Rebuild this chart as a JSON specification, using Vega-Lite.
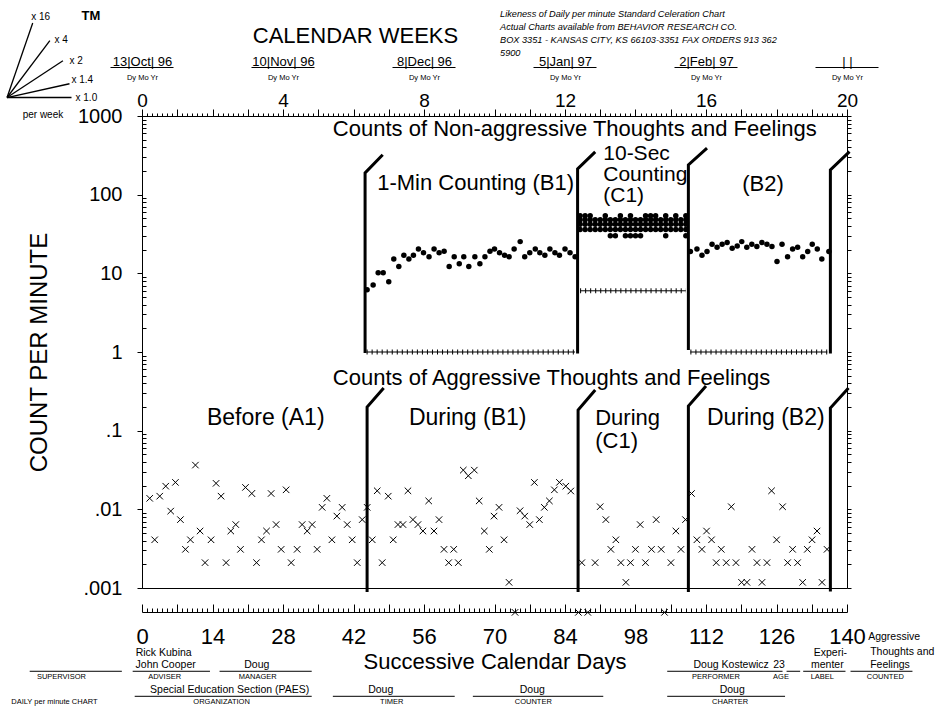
{
  "$schema": "https://vega.github.io/schema/vega-lite/v6.json",
  "width": 705,
  "height": 472,
  "autosize": "none",
  "padding": {"left": 142, "top": 116, "right": 91, "bottom": 119},
  "background": "white",
  "config": {
    "view": {"stroke": "black", "strokeWidth": 1},
    "font": "Liberation Sans",
    "axis": {"grid": false, "labelColor": "black", "tickColor": "black", "domainColor": "black", "titleColor": "black", "labelFont": "Liberation Sans", "titleFont": "Liberation Sans", "labelOverlap": false, "labelFlush": false, "labelBound": false, "titleFontWeight": "normal"},
    "text": {"color": "black", "font": "Liberation Sans"}
  },
  "datasets": {
    "upper": [
      {"day": 44.7, "cpm": 6.2}, {"day": 45.9, "cpm": 7.1}, {"day": 46.9, "cpm": 10.2}, {"day": 47.9, "cpm": 10.2}, {"day": 49.0, "cpm": 7.8},
      {"day": 50.0, "cpm": 15.2}, {"day": 51.0, "cpm": 12.2}, {"day": 52.0, "cpm": 17.0}, {"day": 53.0, "cpm": 15.2}, {"day": 53.9, "cpm": 17.0},
      {"day": 54.9, "cpm": 20.4}, {"day": 55.9, "cpm": 18.3}, {"day": 57.0, "cpm": 16.3}, {"day": 58.0, "cpm": 20.4}, {"day": 59.0, "cpm": 18.3},
      {"day": 60.0, "cpm": 19.1}, {"day": 61.0, "cpm": 12.2}, {"day": 62.0, "cpm": 16.3}, {"day": 63.0, "cpm": 13.2}, {"day": 63.9, "cpm": 16.3},
      {"day": 64.9, "cpm": 12.2}, {"day": 66.1, "cpm": 16.3}, {"day": 67.1, "cpm": 13.2}, {"day": 68.1, "cpm": 16.3}, {"day": 69.1, "cpm": 19.1},
      {"day": 70.0, "cpm": 20.4}, {"day": 71.0, "cpm": 18.3}, {"day": 72.0, "cpm": 17.0}, {"day": 72.9, "cpm": 16.3}, {"day": 73.9, "cpm": 20.4},
      {"day": 75.1, "cpm": 25.3}, {"day": 76.0, "cpm": 16.3}, {"day": 77.0, "cpm": 18.3}, {"day": 78.1, "cpm": 20.4}, {"day": 79.0, "cpm": 18.3},
      {"day": 80.0, "cpm": 17.0}, {"day": 81.0, "cpm": 20.4}, {"day": 82.0, "cpm": 18.3}, {"day": 82.9, "cpm": 17.0}, {"day": 84.0, "cpm": 20.4},
      {"day": 85.0, "cpm": 18.3}, {"day": 86.0, "cpm": 16.3},
      {"day": 108.9, "cpm": 18.9}, {"day": 110.2, "cpm": 20.4}, {"day": 111.2, "cpm": 17.0}, {"day": 112.2, "cpm": 18.9}, {"day": 113.2, "cpm": 23.4},
      {"day": 114.2, "cpm": 21.4}, {"day": 115.2, "cpm": 23.4}, {"day": 116.2, "cpm": 24.6}, {"day": 117.2, "cpm": 20.8}, {"day": 118.2, "cpm": 22.3},
      {"day": 119.1, "cpm": 25.3}, {"day": 120.1, "cpm": 21.4}, {"day": 121.1, "cpm": 23.4}, {"day": 122.1, "cpm": 21.9}, {"day": 123.1, "cpm": 24.6},
      {"day": 124.1, "cpm": 23.4}, {"day": 125.1, "cpm": 21.9}, {"day": 126.1, "cpm": 14.1}, {"day": 127.1, "cpm": 23.4}, {"day": 128.2, "cpm": 16.3},
      {"day": 129.2, "cpm": 20.4}, {"day": 130.2, "cpm": 21.4}, {"day": 131.2, "cpm": 16.3}, {"day": 132.2, "cpm": 18.9}, {"day": 133.1, "cpm": 23.4},
      {"day": 134.1, "cpm": 20.4}, {"day": 135.0, "cpm": 15.2}, {"day": 136.4, "cpm": 18.9}
    ],
    "upperC1": [
      {"day": 87, "cpm": 36}, {"day": 87, "cpm": 42}, {"day": 87, "cpm": 48}, {"day": 87, "cpm": 54},
      {"day": 88, "cpm": 36}, {"day": 88, "cpm": 42}, {"day": 88, "cpm": 48}, {"day": 88, "cpm": 54},
      {"day": 89, "cpm": 36}, {"day": 89, "cpm": 42}, {"day": 89, "cpm": 48}, {"day": 89, "cpm": 54},
      {"day": 90, "cpm": 36}, {"day": 90, "cpm": 42}, {"day": 90, "cpm": 48},
      {"day": 91, "cpm": 36}, {"day": 91, "cpm": 42}, {"day": 91, "cpm": 48},
      {"day": 92, "cpm": 36}, {"day": 92, "cpm": 42}, {"day": 92, "cpm": 48}, {"day": 92, "cpm": 54},
      {"day": 93, "cpm": 30}, {"day": 93, "cpm": 36}, {"day": 93, "cpm": 42}, {"day": 93, "cpm": 48},
      {"day": 94, "cpm": 30}, {"day": 94, "cpm": 36}, {"day": 94, "cpm": 42}, {"day": 94, "cpm": 48},
      {"day": 95, "cpm": 36}, {"day": 95, "cpm": 42}, {"day": 95, "cpm": 48}, {"day": 95, "cpm": 54},
      {"day": 96, "cpm": 30}, {"day": 96, "cpm": 36}, {"day": 96, "cpm": 42}, {"day": 96, "cpm": 48},
      {"day": 97, "cpm": 30}, {"day": 97, "cpm": 36}, {"day": 97, "cpm": 42}, {"day": 97, "cpm": 48}, {"day": 97, "cpm": 54},
      {"day": 98, "cpm": 30}, {"day": 98, "cpm": 36}, {"day": 98, "cpm": 42}, {"day": 98, "cpm": 48},
      {"day": 99, "cpm": 30}, {"day": 99, "cpm": 36}, {"day": 99, "cpm": 42}, {"day": 99, "cpm": 48},
      {"day": 100, "cpm": 36}, {"day": 100, "cpm": 42}, {"day": 100, "cpm": 48}, {"day": 100, "cpm": 54},
      {"day": 101, "cpm": 36}, {"day": 101, "cpm": 42}, {"day": 101, "cpm": 48}, {"day": 101, "cpm": 54},
      {"day": 102, "cpm": 36}, {"day": 102, "cpm": 42}, {"day": 102, "cpm": 48}, {"day": 102, "cpm": 54},
      {"day": 103, "cpm": 36}, {"day": 103, "cpm": 42}, {"day": 103, "cpm": 48},
      {"day": 104, "cpm": 30}, {"day": 104, "cpm": 36}, {"day": 104, "cpm": 42}, {"day": 104, "cpm": 48}, {"day": 104, "cpm": 54},
      {"day": 105, "cpm": 36}, {"day": 105, "cpm": 42}, {"day": 105, "cpm": 48},
      {"day": 106, "cpm": 36}, {"day": 106, "cpm": 42}, {"day": 106, "cpm": 48}, {"day": 106, "cpm": 54},
      {"day": 107, "cpm": 36}, {"day": 107, "cpm": 42}, {"day": 107, "cpm": 48},
      {"day": 108, "cpm": 30}, {"day": 108, "cpm": 36}, {"day": 108, "cpm": 42}, {"day": 108, "cpm": 48}, {"day": 108, "cpm": 54}
    ],
    "lower": [
      {"day": 1.53, "cpm": 0.0138}, {"day": 2.52, "cpm": 0.0041}, {"day": 3.52, "cpm": 0.0147}, {"day": 4.71, "cpm": 0.0197}, {"day": 5.70, "cpm": 0.0095},
      {"day": 6.64, "cpm": 0.022}, {"day": 7.63, "cpm": 0.0074}, {"day": 8.63, "cpm": 0.0031}, {"day": 9.62, "cpm": 0.0041}, {"day": 10.61, "cpm": 0.0365},
      {"day": 11.53, "cpm": 0.0053}, {"day": 12.52, "cpm": 0.0021}, {"day": 13.71, "cpm": 0.0041}, {"day": 14.71, "cpm": 0.0214}, {"day": 15.70, "cpm": 0.0147},
      {"day": 16.70, "cpm": 0.0021}, {"day": 17.63, "cpm": 0.0053}, {"day": 18.62, "cpm": 0.0064}, {"day": 19.56, "cpm": 0.0031}, {"day": 20.55, "cpm": 0.019},
      {"day": 21.80, "cpm": 0.0159}, {"day": 22.74, "cpm": 0.0021}, {"day": 23.73, "cpm": 0.0041}, {"day": 24.73, "cpm": 0.0053}, {"day": 25.64, "cpm": 0.0159},
      {"day": 26.63, "cpm": 0.0064}, {"day": 27.63, "cpm": 0.0031}, {"day": 28.62, "cpm": 0.0177}, {"day": 29.62, "cpm": 0.0021}, {"day": 30.81, "cpm": 0.0031},
      {"day": 31.80, "cpm": 0.0064}, {"day": 32.80, "cpm": 0.0053}, {"day": 33.79, "cpm": 0.0064}, {"day": 34.78, "cpm": 0.0031}, {"day": 35.78, "cpm": 0.0106},
      {"day": 36.71, "cpm": 0.0138}, {"day": 37.71, "cpm": 0.0041}, {"day": 38.70, "cpm": 0.0082}, {"day": 39.75, "cpm": 0.0106}, {"day": 40.75, "cpm": 0.0064},
      {"day": 41.74, "cpm": 0.0041}, {"day": 42.74, "cpm": 0.0021}, {"day": 43.73, "cpm": 0.0074},
      {"day": 44.72, "cpm": 0.0106}, {"day": 45.72, "cpm": 0.0041}, {"day": 46.71, "cpm": 0.0172}, {"day": 47.70, "cpm": 0.0021}, {"day": 48.90, "cpm": 0.0147},
      {"day": 49.89, "cpm": 0.0041}, {"day": 50.83, "cpm": 0.0064}, {"day": 51.82, "cpm": 0.0064}, {"day": 52.81, "cpm": 0.0172}, {"day": 53.80, "cpm": 0.0074},
      {"day": 54.80, "cpm": 0.0064}, {"day": 55.79, "cpm": 0.0053}, {"day": 56.93, "cpm": 0.0128}, {"day": 57.98, "cpm": 0.0053}, {"day": 58.98, "cpm": 0.0074},
      {"day": 59.97, "cpm": 0.0031}, {"day": 60.90, "cpm": 0.0021}, {"day": 61.90, "cpm": 0.0031}, {"day": 62.81, "cpm": 0.0021}, {"day": 63.80, "cpm": 0.0315},
      {"day": 64.80, "cpm": 0.0267}, {"day": 65.99, "cpm": 0.0315}, {"day": 66.96, "cpm": 0.0128}, {"day": 67.98, "cpm": 0.0053}, {"day": 68.97, "cpm": 0.0031},
      {"day": 69.91, "cpm": 0.0082}, {"day": 70.90, "cpm": 0.0106}, {"day": 71.90, "cpm": 0.0041}, {"day": 72.89, "cpm": 0.00118}, {"day": 75.08, "cpm": 0.0096},
      {"day": 76.01, "cpm": 0.0082}, {"day": 77.00, "cpm": 0.0064}, {"day": 77.92, "cpm": 0.022}, {"day": 78.91, "cpm": 0.0074}, {"day": 79.90, "cpm": 0.0106},
      {"day": 80.90, "cpm": 0.0128}, {"day": 81.89, "cpm": 0.0177}, {"day": 82.89, "cpm": 0.022}, {"day": 84.16, "cpm": 0.0197}, {"day": 85.15, "cpm": 0.0171},
      {"day": 87.34, "cpm": 0.0021}, {"day": 89.98, "cpm": 0.0021}, {"day": 90.98, "cpm": 0.0108}, {"day": 92.11, "cpm": 0.0074}, {"day": 93.10, "cpm": 0.0031},
      {"day": 94.10, "cpm": 0.0041}, {"day": 95.09, "cpm": 0.0021}, {"day": 96.09, "cpm": 0.00118}, {"day": 97.00, "cpm": 0.0021}, {"day": 97.99, "cpm": 0.0031},
      {"day": 98.93, "cpm": 0.0064}, {"day": 99.98, "cpm": 0.0021}, {"day": 101.17, "cpm": 0.0031}, {"day": 102.11, "cpm": 0.0074}, {"day": 103.10, "cpm": 0.0031},
      {"day": 105.03, "cpm": 0.0021}, {"day": 106.02, "cpm": 0.0053}, {"day": 107.02, "cpm": 0.0031}, {"day": 107.93, "cpm": 0.0074},
      {"day": 109.12, "cpm": 0.0159}, {"day": 110.19, "cpm": 0.0041}, {"day": 111.19, "cpm": 0.0031}, {"day": 112.11, "cpm": 0.0053}, {"day": 113.10, "cpm": 0.0041},
      {"day": 114.03, "cpm": 0.0021}, {"day": 115.03, "cpm": 0.0031}, {"day": 116.02, "cpm": 0.0021}, {"day": 117.02, "cpm": 0.0108}, {"day": 117.95, "cpm": 0.0021},
      {"day": 119.06, "cpm": 0.00118}, {"day": 120.13, "cpm": 0.00118}, {"day": 121.13, "cpm": 0.0031}, {"day": 122.12, "cpm": 0.0021}, {"day": 123.12, "cpm": 0.00118},
      {"day": 124.11, "cpm": 0.0021}, {"day": 125.02, "cpm": 0.0172}, {"day": 126.02, "cpm": 0.0041}, {"day": 127.21, "cpm": 0.0108}, {"day": 128.21, "cpm": 0.0021},
      {"day": 129.20, "cpm": 0.0031}, {"day": 130.19, "cpm": 0.0021}, {"day": 131.19, "cpm": 0.00118}, {"day": 132.12, "cpm": 0.0031}, {"day": 133.06, "cpm": 0.0041},
      {"day": 134.05, "cpm": 0.0053}, {"day": 135.04, "cpm": 0.00118}, {"day": 136.04, "cpm": 0.0031}
    ],
    "zeros": [{"day": 74.08}, {"day": 86.66}, {"day": 88.53}, {"day": 103.76}],
    "phaselines": [
      {"line": "u1", "ord": 1, "day": 44.3, "cpm": 0.97}, {"line": "u1", "ord": 2, "day": 44.3, "cpm": 189}, {"line": "u1", "ord": 3, "day": 47.8, "cpm": 321},
      {"line": "u2", "ord": 1, "day": 86.5, "cpm": 0.96}, {"line": "u2", "ord": 2, "day": 86.5, "cpm": 213}, {"line": "u2", "ord": 3, "day": 90.0, "cpm": 350},
      {"line": "u3", "ord": 1, "day": 108.5, "cpm": 1.06}, {"line": "u3", "ord": 2, "day": 108.5, "cpm": 239}, {"line": "u3", "ord": 3, "day": 112.2, "cpm": 391},
      {"line": "u4", "ord": 1, "day": 136.7, "cpm": 0.96}, {"line": "u4", "ord": 2, "day": 136.7, "cpm": 207}, {"line": "u4", "ord": 3, "day": 140.5, "cpm": 353},
      {"line": "l1", "ord": 1, "day": 44.7, "cpm": 0.00089}, {"line": "l1", "ord": 2, "day": 44.7, "cpm": 0.2}, {"line": "l1", "ord": 3, "day": 48.0, "cpm": 0.348},
      {"line": "l2", "ord": 1, "day": 86.6, "cpm": 0.00089}, {"line": "l2", "ord": 2, "day": 86.6, "cpm": 0.183}, {"line": "l2", "ord": 3, "day": 90.0, "cpm": 0.329},
      {"line": "l3", "ord": 1, "day": 108.5, "cpm": 0.00089}, {"line": "l3", "ord": 2, "day": 108.5, "cpm": 0.206}, {"line": "l3", "ord": 3, "day": 112.0, "cpm": 0.37},
      {"line": "l4", "ord": 1, "day": 136.7, "cpm": 0.0009}, {"line": "l4", "ord": 2, "day": 136.7, "cpm": 0.194}, {"line": "l4", "ord": 3, "day": 140.3, "cpm": 0.348}
    ],
    "floors": [
      {"d1": 44.6, "d2": 86.0, "floor": 1},
      {"d1": 87.0, "d2": 108.0, "floor": 6},
      {"d1": 108.9, "d2": 136.1, "floor": 1}
    ],
    "weeks": [{"day": 0}, {"day": 28}, {"day": 56}, {"day": 84}, {"day": 112}, {"day": 140}],
    "fan": [
      {"k": "x16", "ord": 1, "day": -26.8, "v": 1718}, {"k": "x16", "ord": 2, "day": -21.7, "v": 15200},
      {"k": "x4", "ord": 1, "day": -26.8, "v": 1718}, {"k": "x4", "ord": 2, "day": -18.3, "v": 9060},
      {"k": "x2", "ord": 1, "day": -26.8, "v": 1718}, {"k": "x2", "ord": 2, "day": -15.7, "v": 5040},
      {"k": "x1.4", "ord": 1, "day": -26.8, "v": 1718}, {"k": "x1.4", "ord": 2, "day": -14.4, "v": 2570},
      {"k": "x1.0", "ord": 1, "day": -26.8, "v": 1718}, {"k": "x1.0", "ord": 2, "day": -14.0, "v": 1718}
    ],
    "fanLabels": [
      {"t": "x 16", "day": -22.0, "v": 18280}, {"t": "x 4", "day": -17.4, "v": 9310}, {"t": "x 2", "day": -14.4, "v": 5040},
      {"t": "x 1.4", "day": -14.0, "v": 2890}, {"t": "x 1.0", "day": -13.2, "v": 1706}, {"t": "per week", "day": -23.7, "v": 1036}
    ],
    "annUpper": [
      {"t": "Counts of Non-aggressive Thoughts and Feelings", "day": 37.9, "v": 687},
      {"t": "1-Min Counting (B1)", "day": 46.7, "v": 141},
      {"t": "(B2)", "day": 119.2, "v": 137},
      {"t": "Counts of Aggressive Thoughts and Feelings", "day": 37.9, "v": 0.467}
    ],
    "annLower": [
      {"t": "Before  (A1)", "day": 12.9, "v": 0.145},
      {"t": "During (B1)", "day": 53.0, "v": 0.145},
      {"t": "During (B2)", "day": 112.2, "v": 0.145}
    ],
    "footNames": [
      {"t": "Rick Kubina", "day": 4.3, "v": 0.000148},
      {"t": "John Cooper", "day": 4.7, "v": 0.000104},
      {"t": "Doug", "day": 22.8, "v": 0.000104},
      {"t": "Doug Kostewicz", "day": 117.0, "v": 0.000104},
      {"t": "23", "day": 126.5, "v": 0.000104},
      {"t": "Experi-", "day": 136.7, "v": 0.000148},
      {"t": "menter", "day": 136.1, "v": 0.000104},
      {"t": "Special Education Section (PAES)", "day": 17.4, "v": 0.0000501},
      {"t": "Doug", "day": 47.4, "v": 0.0000501},
      {"t": "Doug", "day": 77.5, "v": 0.0000501},
      {"t": "Doug", "day": 117.2, "v": 0.0000501}
    ],
    "footLeft": [
      {"t": "Aggressive", "day": 144.2, "v": 0.000237},
      {"t": "Thoughts and", "day": 144.6, "v": 0.000152},
      {"t": "Feelings", "day": 144.6, "v": 0.000104}
    ],
    "footSmall": [
      {"t": "SUPERVISOR", "day": -16.0, "v": 0.0000733},
      {"t": "ADVISER", "day": 4.5, "v": 0.0000733},
      {"t": "MANAGER", "day": 23.0, "v": 0.0000733},
      {"t": "PERFORMER", "day": 114.0, "v": 0.0000733},
      {"t": "AGE", "day": 126.9, "v": 0.0000733},
      {"t": "LABEL", "day": 135.1, "v": 0.0000733},
      {"t": "COUNTED", "day": 147.6, "v": 0.0000733},
      {"t": "ORGANIZATION", "day": 15.8, "v": 0.0000352},
      {"t": "TIMER", "day": 49.6, "v": 0.0000352},
      {"t": "COUNTER", "day": 77.7, "v": 0.0000352},
      {"t": "CHARTER", "day": 116.8, "v": 0.0000352},
      {"t": "DAILY per minute CHART", "day": -17.4, "v": 0.0000352}
    ],
    "footLines": [
      {"d1": -22.3, "d2": -4.0, "v": 0.0000874}, {"d1": -1.85, "d2": 13.5, "v": 0.0000874}, {"d1": 15.4, "d2": 33.7, "v": 0.0000874},
      {"d1": 104.3, "d2": 127.2, "v": 0.0000874}, {"d1": 128.0, "d2": 130.7, "v": 0.0000874}, {"d1": 131.3, "d2": 139.7, "v": 0.0000874},
      {"d1": 140.7, "d2": 153.0, "v": 0.0000874},
      {"d1": -1.45, "d2": 33.7, "v": 0.000042}, {"d1": 37.9, "d2": 62.1, "v": 0.000042}, {"d1": 65.7, "d2": 91.6, "v": 0.000042},
      {"d1": 104.3, "d2": 127.7, "v": 0.000042}
    ]
  },
  "layer": [
    {
      "data": {"name": "upper"},
      "mark": {"type": "circle", "color": "black", "size": 30, "opacity": 1},
      "encoding": {
        "x": {"field": "day", "type": "quantitative", "scale": {"domain": [0, 140], "nice": false, "zero": false},
          "axis": {"orient": "bottom", "offset": 24,
            "values": [0,1,2,3,4,5,6,7,8,9,10,11,12,13,14,15,16,17,18,19,20,21,22,23,24,25,26,27,28,29,30,31,32,33,34,35,36,37,38,39,40,41,42,43,44,45,46,47,48,49,50,51,52,53,54,55,56,57,58,59,60,61,62,63,64,65,66,67,68,69,70,71,72,73,74,75,76,77,78,79,80,81,82,83,84,85,86,87,88,89,90,91,92,93,94,95,96,97,98,99,100,101,102,103,104,105,106,107,108,109,110,111,112,113,114,115,116,117,118,119,120,121,122,123,124,125,126,127,128,129,130,131,132,133,134,135,136,137,138,139,140],
            "tickSize": {"condition": {"test": "datum.value % 7 === 0", "value": -8}, "value": -4},
            "labelExpr": "datum.value % 14 === 0 ? datum.label : ''",
            "labelFontSize": 22, "labelPadding": 22,
            "title": "Successive Calendar Days", "titleFontSize": 22, "titlePadding": 0}},
        "y": {"field": "cpm", "type": "quantitative", "scale": {"type": "log", "domain": [0.001, 1000], "nice": false},
          "axis": {"orient": "left",
            "values": [0.001,0.002,0.003,0.004,0.005,0.006,0.007,0.008,0.009,0.01,0.02,0.03,0.04,0.05,0.06,0.07,0.08,0.09,0.1,0.2,0.3,0.4,0.5,0.6,0.7,0.8,0.9,1,2,3,4,5,6,7,8,9,10,20,30,40,50,60,70,80,90,100,200,300,400,500,600,700,800,900,1000],
            "tickSize": {"condition": {"test": "abs(log(datum.value)/LN10 - round(log(datum.value)/LN10)) < 0.01", "value": 5}, "value": -4},
            "labelExpr": "abs(log(datum.value)/LN10 - round(log(datum.value)/LN10)) < 0.01 ? (datum.value >= 1 ? format(datum.value, 'd') : replace(format(datum.value, '.3~f'), '0.', '.')) : ''",
            "labelFontSize": 20, "labelPadding": 15,
            "title": "COUNT PER MINUTE", "titleFontSize": 24, "titlePadding": 26}}
      }
    },
    {
      "data": {"name": "upperC1"},
      "mark": {"type": "circle", "color": "black", "size": 30, "opacity": 1},
      "encoding": {
        "x": {"field": "day", "type": "quantitative",
          "axis": {"orient": "top",
            "values": [0,1,2,3,4,5,6,7,8,9,10,11,12,13,14,15,16,17,18,19,20,21,22,23,24,25,26,27,28,29,30,31,32,33,34,35,36,37,38,39,40,41,42,43,44,45,46,47,48,49,50,51,52,53,54,55,56,57,58,59,60,61,62,63,64,65,66,67,68,69,70,71,72,73,74,75,76,77,78,79,80,81,82,83,84,85,86,87,88,89,90,91,92,93,94,95,96,97,98,99,100,101,102,103,104,105,106,107,108,109,110,111,112,113,114,115,116,117,118,119,120,121,122,123,124,125,126,127,128,129,130,131,132,133,134,135,136,137,138,139,140],
            "tickSize": {"condition": {"test": "datum.value % 7 === 0", "value": 7}, "value": 3},
            "labelExpr": "datum.value % 28 === 0 ? format(datum.value / 7, 'd') : ''",
            "labelFontSize": 19, "labelPadding": -1, "title": null}},
        "y": {"field": "cpm", "type": "quantitative",
          "axis": {"orient": "right",
            "values": [0.001,0.002,0.003,0.004,0.005,0.006,0.007,0.008,0.009,0.01,0.02,0.03,0.04,0.05,0.06,0.07,0.08,0.09,0.1,0.2,0.3,0.4,0.5,0.6,0.7,0.8,0.9,1,2,3,4,5,6,7,8,9,10,20,30,40,50,60,70,80,90,100,200,300,400,500,600,700,800,900,1000],
            "tickSize": 4, "labels": false, "domain": false, "title": null}}
      }
    },
    {
      "data": {"name": "lower"},
      "mark": {"type": "point", "shape": "M-1,-1L1,1M1,-1L-1,1", "filled": false, "stroke": "black", "strokeWidth": 1, "size": 42, "opacity": 1},
      "encoding": {
        "x": {"field": "day", "type": "quantitative",
          "axis": {"orient": "top", "values": [0, 28, 56, 84, 112, 140],
            "labelExpr": "['13|Oct| 96', '10|Nov| 96', '8|Dec| 96', '5|Jan| 97', '2|Feb| 97', '    |     |    '][round(datum.value / 28)]",
            "ticks": false, "domain": false, "labelFontSize": 13, "labelPadding": 48, "title": null}},
        "y": {"field": "cpm", "type": "quantitative", "axis": null}
      }
    },
    {
      "data": {"name": "zeros"},
      "mark": {"type": "point", "shape": "M-1,-1L1,1M1,-1L-1,1", "filled": false, "stroke": "black", "strokeWidth": 1, "size": 42, "opacity": 1},
      "encoding": {
        "x": {"field": "day", "type": "quantitative", "axis": null},
        "y": {"datum": 0.00049, "type": "quantitative", "axis": null}
      }
    },
    {
      "data": {"name": "phaselines"},
      "mark": {"type": "line", "color": "black", "strokeWidth": 3, "strokeCap": "butt", "strokeJoin": "miter"},
      "encoding": {
        "x": {"field": "day", "type": "quantitative",
          "axis": {"orient": "top", "values": [0, 28, 56, 84, 112, 140], "labelExpr": "'Dy Mo Yr'",
            "ticks": false, "domain": false, "labelFontSize": 7.5, "labelPadding": 35, "title": null}},
        "y": {"field": "cpm", "type": "quantitative", "axis": null},
        "detail": {"field": "line"},
        "order": {"field": "ord"}
      }
    },
    {
      "data": {"name": "floors"},
      "mark": {"type": "rule", "color": "black", "strokeWidth": 1},
      "encoding": {
        "x": {"field": "d1", "type": "quantitative", "axis": null},
        "x2": {"field": "d2"},
        "y": {"field": "floor", "type": "quantitative", "axis": null}
      }
    },
    {
      "data": {"name": "floors"},
      "mark": {"type": "rule", "color": "black", "strokeWidth": 5, "strokeDash": [1, 4.03]},
      "encoding": {
        "x": {"field": "d1", "type": "quantitative", "axis": null},
        "x2": {"field": "d2"},
        "y": {"field": "floor", "type": "quantitative", "axis": null}
      }
    },
    {
      "data": {"name": "weeks"},
      "mark": {"type": "tick", "orient": "horizontal", "size": 63, "thickness": 1, "color": "black", "opacity": 1},
      "encoding": {
        "x": {"field": "day", "type": "quantitative", "axis": null},
        "y": {"datum": 4140, "type": "quantitative", "axis": null}
      }
    },
    {
      "data": {"name": "fan"},
      "mark": {"type": "line", "color": "black", "strokeWidth": 1.3},
      "encoding": {
        "x": {"field": "day", "type": "quantitative", "axis": null},
        "y": {"field": "v", "type": "quantitative", "axis": null},
        "detail": {"field": "k"},
        "order": {"field": "ord"}
      }
    },
    {
      "data": {"name": "fanLabels"},
      "mark": {"type": "text", "align": "left", "baseline": "middle", "fontSize": 10},
      "encoding": {
        "x": {"field": "day", "type": "quantitative", "axis": null},
        "y": {"field": "v", "type": "quantitative", "axis": null},
        "text": {"field": "t"}
      }
    },
    {
      "data": {"values": [{"t": "TM", "day": -12.0, "v": 18830}]},
      "mark": {"type": "text", "align": "left", "baseline": "middle", "fontSize": 13, "fontWeight": "bold"},
      "encoding": {
        "x": {"field": "day", "type": "quantitative", "axis": null},
        "y": {"field": "v", "type": "quantitative", "axis": null},
        "text": {"field": "t"}
      }
    },
    {
      "data": {"values": [{"t": "CALENDAR WEEKS", "day": 22.0, "v": 10330}]},
      "mark": {"type": "text", "align": "left", "baseline": "middle", "fontSize": 22},
      "encoding": {
        "x": {"field": "day", "type": "quantitative", "axis": null},
        "y": {"field": "v", "type": "quantitative", "axis": null},
        "text": {"field": "t"}
      }
    },
    {
      "data": {"values": [{"t": "Likeness of  Daily  per minute Standard Celeration Chart\nActual Charts available from BEHAVIOR RESEARCH CO.\nBOX 3351 - KANSAS CITY, KS 66103-3351  FAX  ORDERS 913 362\n5900", "day": 71.1, "v": 18030}]},
      "mark": {"type": "text", "align": "left", "baseline": "alphabetic", "fontSize": 9.2, "fontStyle": "italic", "lineBreak": "\n", "lineHeight": 13},
      "encoding": {
        "x": {"field": "day", "type": "quantitative", "axis": null},
        "y": {"field": "v", "type": "quantitative", "axis": null},
        "text": {"field": "t"}
      }
    },
    {
      "data": {"name": "annUpper"},
      "mark": {"type": "text", "align": "left", "baseline": "middle", "fontSize": 22},
      "encoding": {
        "x": {"field": "day", "type": "quantitative", "axis": null},
        "y": {"field": "v", "type": "quantitative", "axis": null},
        "text": {"field": "t"}
      }
    },
    {
      "data": {"name": "annLower"},
      "mark": {"type": "text", "align": "left", "baseline": "middle", "fontSize": 23},
      "encoding": {
        "x": {"field": "day", "type": "quantitative", "axis": null},
        "y": {"field": "v", "type": "quantitative", "axis": null},
        "text": {"field": "t"}
      }
    },
    {
      "data": {"values": [{"t": "10-Sec\nCounting\n(C1)", "day": 91.6, "v": 277}]},
      "mark": {"type": "text", "align": "left", "baseline": "alphabetic", "fontSize": 21, "lineBreak": "\n", "lineHeight": 21},
      "encoding": {
        "x": {"field": "day", "type": "quantitative", "axis": null},
        "y": {"field": "v", "type": "quantitative", "axis": null},
        "text": {"field": "t"}
      }
    },
    {
      "data": {"values": [{"t": "During\n(C1)", "day": 90.0, "v": 0.118}]},
      "mark": {"type": "text", "align": "left", "baseline": "alphabetic", "fontSize": 22, "lineBreak": "\n", "lineHeight": 23},
      "encoding": {
        "x": {"field": "day", "type": "quantitative", "axis": null},
        "y": {"field": "v", "type": "quantitative", "axis": null},
        "text": {"field": "t"}
      }
    },
    {
      "data": {"name": "footNames"},
      "mark": {"type": "text", "align": "center", "baseline": "middle", "fontSize": 10.5},
      "encoding": {
        "x": {"field": "day", "type": "quantitative", "axis": null},
        "y": {"field": "v", "type": "quantitative", "axis": null},
        "text": {"field": "t"}
      }
    },
    {
      "data": {"name": "footLeft"},
      "mark": {"type": "text", "align": "left", "baseline": "middle", "fontSize": 10.5},
      "encoding": {
        "x": {"field": "day", "type": "quantitative", "axis": null},
        "y": {"field": "v", "type": "quantitative", "axis": null},
        "text": {"field": "t"}
      }
    },
    {
      "data": {"name": "footSmall"},
      "mark": {"type": "text", "align": "center", "baseline": "middle", "fontSize": 7.5},
      "encoding": {
        "x": {"field": "day", "type": "quantitative", "axis": null},
        "y": {"field": "v", "type": "quantitative", "axis": null},
        "text": {"field": "t"}
      }
    },
    {
      "data": {"name": "footLines"},
      "mark": {"type": "rule", "color": "black", "strokeWidth": 1},
      "encoding": {
        "x": {"field": "d1", "type": "quantitative", "axis": null},
        "x2": {"field": "d2"},
        "y": {"field": "v", "type": "quantitative", "axis": null}
      }
    }
  ],
  "resolve": {"axis": {"x": "independent", "y": "independent"}}
}
